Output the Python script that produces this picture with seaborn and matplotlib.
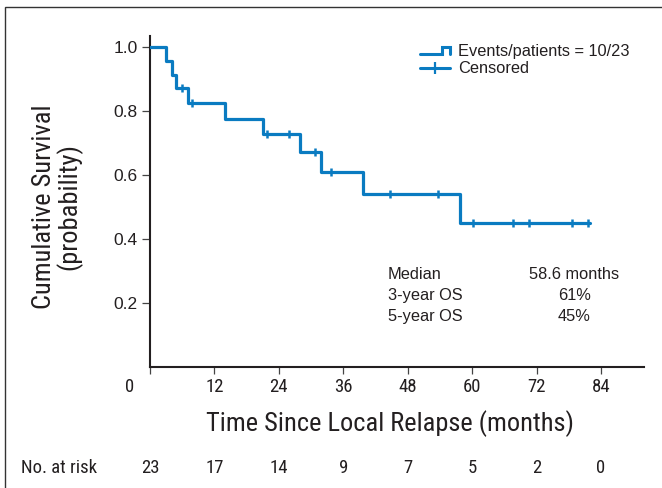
import numpy as np
import pandas as pd
import matplotlib
matplotlib.use("Agg")
import matplotlib.pyplot as plt
import seaborn as sns
from matplotlib.lines import Line2D
from matplotlib.patches import Rectangle
from matplotlib.legend_handler import HandlerBase
from matplotlib.transforms import ScaledTranslation, blended_transform_factory

# ---------------- data ----------------
step_times = [0, 2.98, 4.04, 4.84, 7.02, 13.97, 20.99, 27.93, 31.84, 39.66, 57.8, 82.0]
step_surv = [1.0, 0.957, 0.913, 0.870, 0.824, 0.775, 0.727, 0.671, 0.610, 0.542, 0.452, 0.452]
censor_times = [5.90, 7.88, 21.73, 25.88, 30.82, 33.80, 44.69, 53.69, 60.2, 67.65, 70.63, 78.53, 81.5]

x_ticks = [0, 12, 24, 36, 48, 60, 72, 84]
at_risk = [23, 17, 14, 9, 7, 5, 2, 0]
y_ticks = [0.2, 0.4, 0.6, 0.8, 1.0]
y_tick_labels = ["0.2", "0.4", "0.6", "0.8", "1.0"]

legend_labels = ["Events/patients = 10/23", "Censored"]
stats_labels = ["Median", "3-year OS", "5-year OS"]
stats_values = ["58.6 months", "61%", "45%"]

x_label = "Time Since Local Relapse (months)"
y_label = "Cumulative Survival\n(probability)"
risk_label = "No. at risk"

# ---------------- style ----------------
BLUE = "#0a7bc1"
INK = "#231f20"
NARROW = ["Roboto Condensed", "PT Sans Narrow", "Liberation Sans", "DejaVu Sans"]
REGULAR = ["Liberation Sans", "DejaVu Sans"]

sns.set_theme(style="ticks")
plt.rcParams["font.family"] = REGULAR
plt.rcParams["text.color"] = INK
plt.rcParams["axes.labelcolor"] = INK

W, H = 662, 488
fig = plt.figure(figsize=(W / 100, H / 100), dpi=100)
fig.patch.set_facecolor("white")
ax = fig.add_axes([150 / W, 1 - 366.7 / H, 494 / W, (366.7 - 36) / H])
ax.set_facecolor("white")

df = pd.DataFrame({"time": step_times, "surv": step_surv})
sns.lineplot(data=df, x="time", y="surv", ax=ax, drawstyle="steps-post",
             color=BLUE, lw=2.3, estimator=None, sort=False, zorder=3)

idx = np.searchsorted(step_times, censor_times, side="right") - 1
censor_surv = [step_surv[i] for i in idx]
sns.scatterplot(x=censor_times, y=censor_surv, ax=ax, marker="|", s=28,
                color=BLUE, linewidth=1.8, zorder=4)

ax.set_xlim(0, 92)
ax.set_ylim(0.0025, 1.0334)
sns.despine(ax=ax)
for side in ("left", "bottom"):
    ax.spines[side].set_linewidth(1.5)
    ax.spines[side].set_color(INK)

ax.set_xticks(x_ticks)
ax.set_xticklabels([str(t) for t in x_ticks], fontfamily=NARROW, fontsize=13.5, color=INK)
ax.set_yticks(y_ticks)
ax.set_yticklabels(y_tick_labels, fontfamily=REGULAR, fontsize=12.5, color=INK)
ax.tick_params(axis="x", length=5, width=0.9, color="#444", pad=3.0)
ax.tick_params(axis="y", length=5.5, width=0.9, color="#444", pad=3.5)
ax.grid(False)

# "0" label sits left of the y axis
lab0 = ax.get_xticklabels()[0]
lab0.set_transform(lab0.get_transform() + ScaledTranslation(-0.20, 0, fig.dpi_scale_trans))

# axis labels
ax.set_xlabel(x_label, fontfamily=NARROW, fontsize=19, color=INK)
ax.xaxis.set_label_coords(390 / W, 1 - 431 / H, transform=fig.transFigure)
ax.xaxis.label.set_va("baseline")
ax.xaxis.label.set_ha("center")

ax.set_ylabel(y_label, fontfamily=NARROW, fontsize=19, color=INK, linespacing=1.0)
ax.yaxis.set_label_coords(57 / W, 1 - 206.7 / H, transform=fig.transFigure)
ax.yaxis.label.set_va("center")
ax.yaxis.label.set_ha("center")


# legend
class StepHandler(HandlerBase):
    def create_artists(self, legend, orig_handle, xdescent, ydescent,
                       width, height, fontsize, trans):
        x0, y0 = -xdescent, -ydescent
        xs = [x0, x0 + 0.74 * width, x0 + 0.74 * width, x0 + width, x0 + width]
        ys = [y0 + 0.2 * height, y0 + 0.2 * height, y0 + 0.8 * height,
              y0 + 0.8 * height, y0 + 0.2 * height]
        ln = Line2D(xs, ys, color=BLUE, lw=2.2, solid_joinstyle="miter")
        ln.set_transform(trans)
        return [ln]


step_proxy = Line2D([], [], color=BLUE, lw=2.2)
cens_proxy = Line2D([], [], color=BLUE, lw=2.2, marker="|", markersize=8, mew=1.6)
leg = ax.legend([step_proxy, cens_proxy], legend_labels,
                handler_map={step_proxy: StepHandler()},
                loc="upper left", bbox_to_anchor=(420 / W, 1 - 44 / H),
                bbox_transform=fig.transFigure, frameon=False, borderpad=0,
                borderaxespad=0, handlelength=1.85, handletextpad=0.45,
                labelspacing=0.15, prop={"family": REGULAR, "size": 11.8})
for t in leg.get_texts():
    t.set_color(INK)

# statistics block
for i, (lab, val) in enumerate(zip(stats_labels, stats_values)):
    yb = [279.3, 300.0, 320.7][i]
    fig.text(388 / W, 1 - yb / H, lab, ha="left", va="baseline",
             fontfamily=REGULAR, fontsize=11.8, color=INK)
    fig.text(574.5 / W, 1 - yb / H, val, ha="center", va="baseline",
             fontfamily=REGULAR, fontsize=11.8, color=INK)

# number at risk row
risk_trans = blended_transform_factory(ax.transData, fig.transFigure)
for t, n in zip(x_ticks, at_risk):
    ax.text(t, 1 - 472.7 / H, str(n), transform=risk_trans, ha="center",
            va="baseline", fontfamily=NARROW, fontsize=13.5, color=INK, clip_on=False)
fig.text(21 / W, 1 - 472.7 / H, risk_label, ha="left", va="baseline",
         fontfamily=NARROW, fontsize=13.5, color=INK)

# outer frame (continues past right and bottom edges)
fig.patches.append(Rectangle((5 / W, -0.1), 1.2, (1 - 7.3 / H) + 0.1,
                             transform=fig.transFigure, fill=False,
                             lw=1.0, ec="#333333", clip_on=False))

fig.savefig("out.png", dpi=100)
